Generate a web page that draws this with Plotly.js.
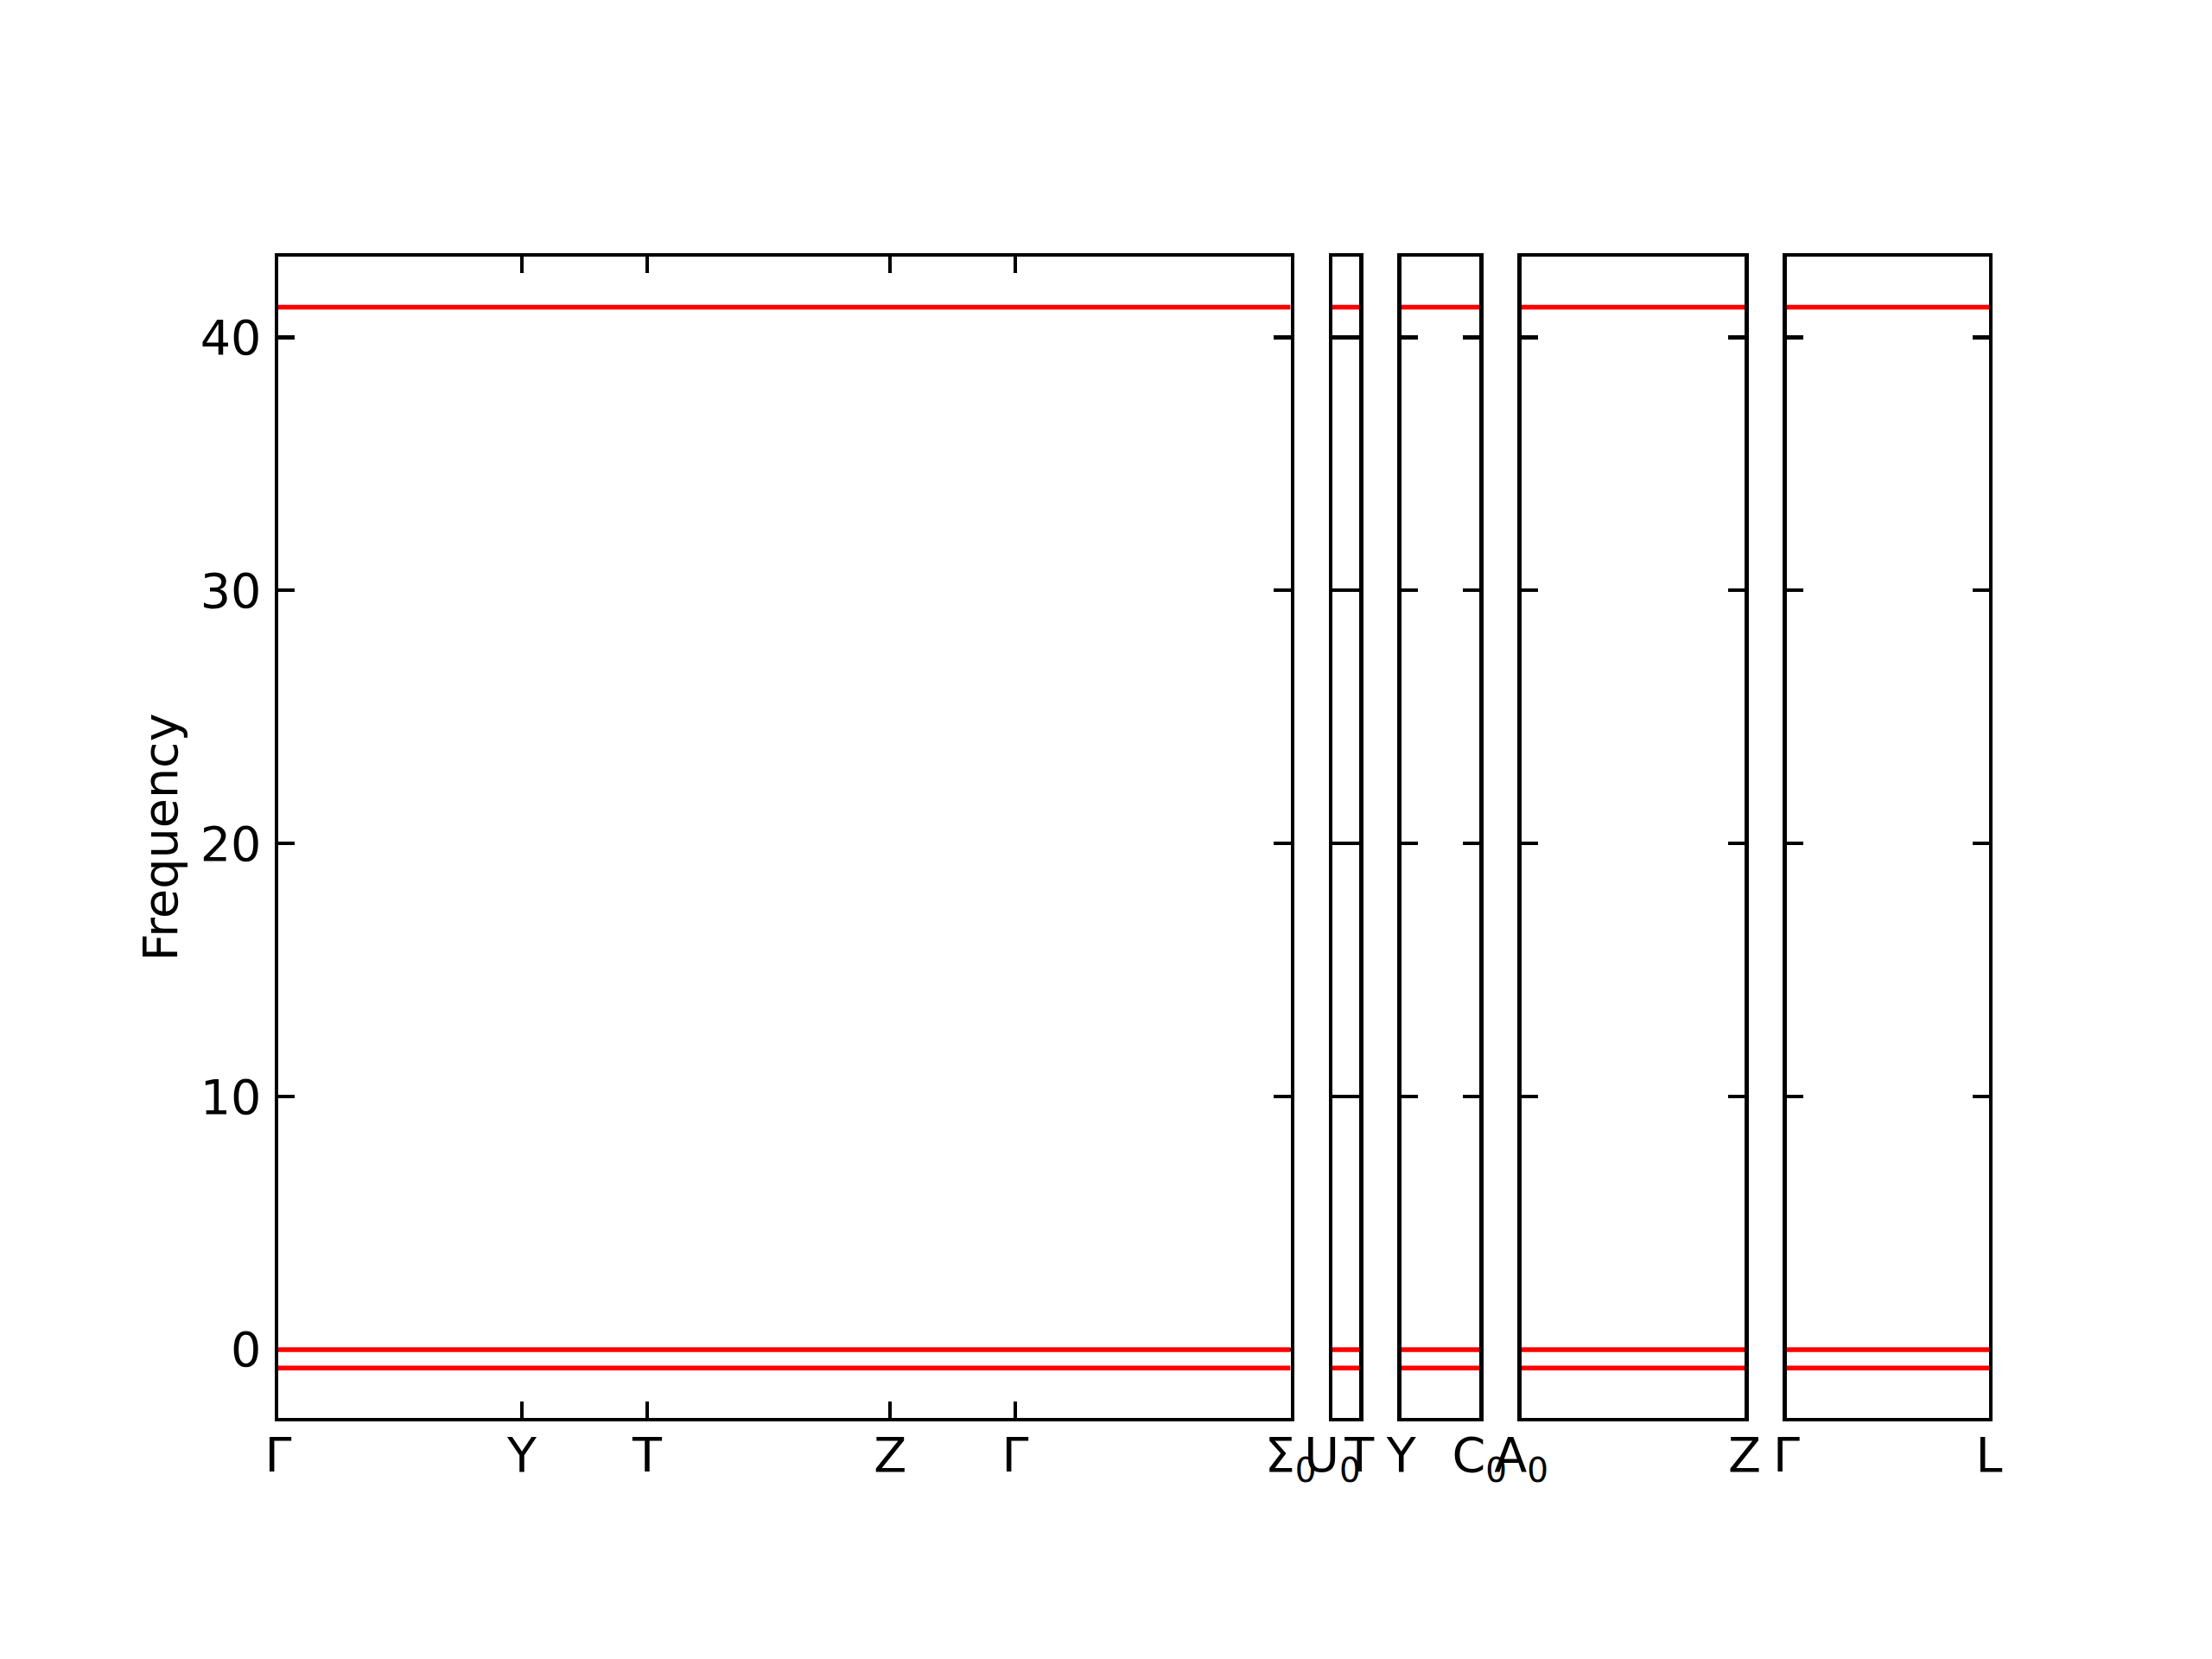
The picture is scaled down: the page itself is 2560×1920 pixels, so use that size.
<!DOCTYPE html>
<html>
<head>
<meta charset="utf-8">
<script src="https://cdn.plot.ly/plotly-3.0.1.min.js"></script>
<style>html,body{margin:0;padding:0;background:#fff;}#plot{width:2560px;height:1920px;}</style>
</head>
<body>
<div id="plot"></div>
<script>
// k-path segments: labels and cumulative path distances at each high-symmetry point
const segLabels = [
  ["Γ", "Y", "T", "Z", "Γ", "Σ<sub>0</sub>"],
  ["U<sub>0</sub>", "T"],
  ["Y", "C<sub>0</sub>"],
  ["A<sub>0</sub>", "Z"],
  ["Γ", "L"]
];
const segDist = [
  [0.0, 0.2832, 0.4288, 0.7112, 0.8567, 1.1766],
  [1.1766, 1.2123],
  [1.2123, 1.3073],
  [1.3073, 1.5703],
  [1.5703, 1.8093]
];
// band frequencies (flat bands) at the start and end of every segment
const band1 = [[41.19, 41.19], [41.19, 41.19], [41.19, 41.19], [41.19, 41.19], [41.19, 41.19]];
const band2 = [[0.0, 0.0], [0.0, 0.0], [0.0, 0.0], [0.0, 0.0], [0.0, 0.0]];
const band3 = [[-0.73, -0.73], [-0.73, -0.73], [-0.73, -0.73], [-0.73, -0.73], [-0.73, -0.73]];
const bands = [band1, band2, band3];
const yTicks = [0, 10, 20, 30, 40];
const yTitle = "Frequency";

const FONT = "DejaVu Sans";
const FS = 55.6;
const LW = 4.4;
const TL = 19.4;

const ML = 321.5, MR = 258.2;
const plotW = 2560 - ML - MR;
const S = plotW + LW;          // span between outer spine centres
const gapPx = 44;              // gap between neighbouring spine centres

const n = segDist.length;
const lengths = segDist.map(s => s[s.length - 1] - s[0]);
const total = lengths.reduce((a, b) => a + b, 0);
const usable = S - gapPx * (n - 1);

const traces = [];
const layout = {
  width: 2560, height: 1920,
  paper_bgcolor: "#ffffff", plot_bgcolor: "#ffffff",
  showlegend: false,
  margin: {l: ML, r: MR, t: 297.2, b: 278.9, pad: 0},
  font: {family: FONT, size: FS, color: "#000000"}
};

let c = 0;
for (let i = 0; i < n; i++) {
  const w = usable * lengths[i] / total;
  const dom = [Math.max(0, c / plotW), Math.min(1, (c + w - LW) / plotW)];
  c += w + gapPx;
  const xa = i === 0 ? "xaxis" : "xaxis" + (i + 1);
  const ya = i === 0 ? "yaxis" : "yaxis" + (i + 1);
  const xr = i === 0 ? "x" : "x" + (i + 1);
  const yr = i === 0 ? "y" : "y" + (i + 1);
  const s = segDist[i];
  bands.forEach(b => {
    traces.push({
      x: [s[0], s[s.length - 1]], y: b[i],
      xaxis: xr, yaxis: yr,
      type: "scatter", mode: "lines",
      line: {color: "#ff0000", width: 5.5},
      hoverinfo: "skip"
    });
  });
  layout[xa] = {
    domain: dom, anchor: yr,
    range: [s[0], s[s.length - 1]],
    tickmode: "array", tickvals: s, ticktext: segLabels[i],
    tickangle: 0,
    ticks: "inside", ticklen: TL, tickwidth: LW, tickcolor: "#000",
    showline: true, linewidth: LW, linecolor: "#000", mirror: "allticks",
    showgrid: false, zeroline: false,
    layer: "below traces",
    tickfont: {family: FONT, size: FS, color: "#000"},
    ticklabelstandoff: -9
  };
  layout[ya] = {
    domain: [0, 1], anchor: xr,
    range: [-2.70, 43.19],
    tickmode: "array", tickvals: yTicks, ticktext: yTicks.map(String),
    ticks: "inside", ticklen: TL, tickwidth: LW, tickcolor: "#000",
    showline: true, linewidth: LW, linecolor: "#000", mirror: "allticks",
    showgrid: false, zeroline: false,
    layer: "below traces",
    showticklabels: i === 0,
    tickfont: {family: FONT, size: FS, color: "#000"},
    ticklabelstandoff: 4
  };
  if (i > 0) layout[ya].matches = "y";
  if (i === 0) layout[ya].title = {text: yTitle, font: {family: FONT, size: FS, color: "#000"}, standoff: 9};
}

Plotly.newPlot("plot", traces, layout, {staticPlot: true, displayModeBar: false});
</script>
</body>
</html>
